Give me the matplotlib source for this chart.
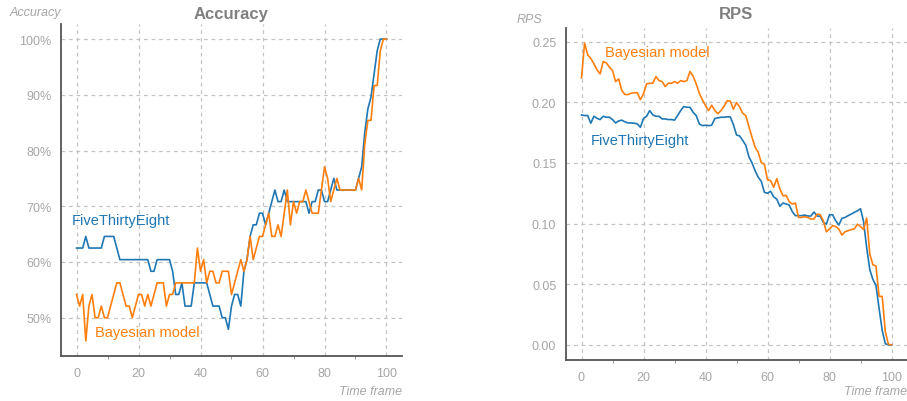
import numpy as np
import matplotlib
matplotlib.use('Agg')
import matplotlib.pyplot as plt
from matplotlib.ticker import PercentFormatter, MultipleLocator

plt.rcParams['font.family'] = ['Liberation Sans', 'DejaVu Sans']

# Time frames 0..100
time_frame = list(range(101))

# Accuracy, as number of correct games out of 48
n_games = 48
acc_538_correct = [
    30, 30, 30, 31, 30, 30, 30, 30, 30, 31, 31, 31, 31, 30,
    29, 29, 29, 29, 29, 29, 29, 29, 29, 29, 28, 28, 29, 29, 29, 29, 29,
    28, 26, 26, 27, 25, 25, 25, 27, 27, 27, 27, 27, 26, 25, 25, 25,
    24, 24, 23, 25, 26, 26, 25, 28, 29, 31, 32, 32, 33, 33, 32, 33, 34,
    35, 34, 34, 35, 34, 34, 34, 34, 34, 34, 34, 33, 34, 34, 35, 35, 34,
    34, 35, 36, 35, 35, 35, 35, 35, 35, 35, 36, 37, 40, 42, 43, 45, 47,
    48, 48, 48,
]
acc_bayes_correct = [
    26, 25, 26, 22, 25, 26, 24, 24, 25, 24, 24, 25, 26, 27, 27, 26,
    25, 25, 24, 25, 26, 26, 25, 26, 25, 26, 27, 27, 27, 25, 26, 26,
    27, 27, 27, 27, 27, 27, 27, 30, 28, 29, 27, 28, 28, 27, 27, 28,
    28, 28, 26, 27, 28, 29, 28, 29, 31, 29, 30, 31, 31, 32, 33, 31,
    31, 32, 31, 33, 35, 32, 34, 33, 34, 34, 35, 34, 33, 33, 33, 35,
    37, 36, 34, 35, 36, 35, 35, 35, 35, 35, 35, 36, 35, 39, 41, 41,
    44, 44, 47, 48, 48,
]

# RPS
rps_538 = [
    0.1895, 0.1890, 0.1890, 0.1827, 0.1884, 0.1867, 0.1857, 0.1884, 0.1876, 0.1876,
    0.1857, 0.1829, 0.1846, 0.1852, 0.1838, 0.1829, 0.1829, 0.1827, 0.1821, 0.1793,
    0.1867, 0.1884, 0.1931, 0.1895, 0.1884, 0.1884, 0.1862, 0.1862, 0.1857, 0.1857,
    0.1852, 0.1890, 0.1931, 0.1964, 0.1958, 0.1958, 0.1917, 0.1890, 0.1821, 0.1807,
    0.1810, 0.1807, 0.1810, 0.1865, 0.1871, 0.1876, 0.1876, 0.1879, 0.1879, 0.1815,
    0.1730, 0.1722, 0.1685, 0.1645, 0.1550, 0.1500, 0.1435, 0.1382, 0.1348, 0.1257,
    0.1250, 0.1266, 0.1220, 0.1200, 0.1142, 0.1169, 0.1161, 0.1153, 0.1098, 0.1065,
    0.1065, 0.1065, 0.1070, 0.1062, 0.1062, 0.1095, 0.1062, 0.1060, 0.1010, 0.0995,
    0.1073, 0.1073, 0.1023, 0.0988, 0.1043, 0.1050, 0.1065, 0.1078, 0.1092, 0.1105,
    0.1122, 0.1015, 0.0800, 0.0620, 0.0540, 0.0490, 0.0300, 0.0120, 0.0010, 0.0000,
    0.0000,
]
rps_bayes = [
    0.2200, 0.2487, 0.2390, 0.2360, 0.2316, 0.2267, 0.2233, 0.2335, 0.2324, 0.2289,
    0.2261, 0.2170, 0.2192, 0.2096, 0.2063, 0.2063, 0.2074, 0.2078, 0.2078, 0.2021,
    0.2069, 0.2151, 0.2156, 0.2156, 0.2211, 0.2178, 0.2170, 0.2129, 0.2156, 0.2156,
    0.2170, 0.2156, 0.2178, 0.2170, 0.2178, 0.2253, 0.2215, 0.2151, 0.2074, 0.2019,
    0.1972, 0.1931, 0.1975, 0.1931, 0.1905, 0.1931, 0.1967, 0.2013, 0.2008, 0.1942,
    0.1997, 0.1962, 0.1908, 0.1890, 0.1800, 0.1711, 0.1629, 0.1587, 0.1502, 0.1487,
    0.1360, 0.1353, 0.1299, 0.1370, 0.1285, 0.1229, 0.1232, 0.1180, 0.1161, 0.1169,
    0.1051, 0.1051, 0.1056, 0.1051, 0.1037, 0.1037, 0.1078, 0.1073, 0.1023, 0.0932,
    0.0955, 0.0982, 0.0976, 0.0955, 0.0905, 0.0932, 0.0941, 0.0950, 0.0955, 0.0995,
    0.0975, 0.0950, 0.1045, 0.0750, 0.0660, 0.0650, 0.0400, 0.0400, 0.0110, 0.0005,
    0.0000,
]

acc_538 = np.array(acc_538_correct) / n_games * 100
acc_bayes = np.array(acc_bayes_correct) / n_games * 100

blue = '#1f77b4'
orange = '#ff7f0e'
label_grey = '#a6a6a6'

W, H = 907, 402
fig = plt.figure(figsize=(W / 100, H / 100), dpi=100)
ax1 = fig.add_axes([61 / W, 1 - 357 / H, 341 / W, 332 / H])
ax2 = fig.add_axes([566 / W, 1 - 361 / H, 341 / W, 332 / H])


def style_axes(ax):
    for side in ['top', 'right']:
        ax.spines[side].set_visible(False)
    for side in ['left', 'bottom']:
        ax.spines[side].set_color('#555555')
        ax.spines[side].set_linewidth(1.3)
    ax.grid(True, linestyle=(0, (3, 3)), color='#c4c4c4', linewidth=0.9)
    ax.set_axisbelow(True)
    ax.xaxis.set_major_locator(MultipleLocator(20))
    ax.xaxis.set_minor_locator(MultipleLocator(10))
    ax.tick_params(axis='both', which='major', length=0, pad=7,
                   labelsize=9, labelcolor=label_grey)
    ax.tick_params(axis='x', which='minor', length=2.5, color='#888888')
    ax.tick_params(axis='x', which='major', pad=8)


# Accuracy
ax1.plot(time_frame, acc_538, color=blue, linewidth=1.2)
ax1.plot(time_frame, acc_bayes, color=orange, linewidth=1.2)
style_axes(ax1)
ax1.yaxis.set_major_formatter(PercentFormatter(decimals=0))
ax1.set_title('Accuracy', fontsize=12, fontweight='bold', color='#808080', pad=4.5)
ax1.text(-0.075, 1.036, 'Accuracy', transform=ax1.transAxes, ha='center', va='center',
         fontsize=9, style='italic', color=label_grey)
ax1.text(1.0, -0.105, 'Time frame', transform=ax1.transAxes, ha='right', va='center',
         fontsize=9, style='italic', color=label_grey)
ax1.text(-1.4, 67.6, 'FiveThirtyEight', color=blue, fontsize=10.5, va='center')
ax1.text(6.0, 47.4, 'Bayesian model', color=orange, fontsize=10.5, va='center')

# RPS
ax2.plot(time_frame, rps_538, color=blue, linewidth=1.2)
ax2.plot(time_frame, rps_bayes, color=orange, linewidth=1.2)
style_axes(ax2)
ax2.yaxis.set_major_locator(MultipleLocator(0.05))
ax2.yaxis.set_major_formatter(matplotlib.ticker.FormatStrFormatter('%.2f'))
ax2.set_title('RPS', fontsize=12, fontweight='bold', color='#808080', pad=7.5)
ax2.text(-0.145, 1.027, 'RPS', transform=ax2.transAxes, ha='left', va='center',
         fontsize=9, style='italic', color=label_grey)
ax2.text(1.0, -0.093, 'Time frame', transform=ax2.transAxes, ha='right', va='center',
         fontsize=9, style='italic', color=label_grey)
ax2.text(7.5, 0.2415, 'Bayesian model', color=orange, fontsize=10.5, va='center')
ax2.text(3.1, 0.169, 'FiveThirtyEight', color=blue, fontsize=10.5, va='center')

fig.savefig('out.png', dpi=100)
